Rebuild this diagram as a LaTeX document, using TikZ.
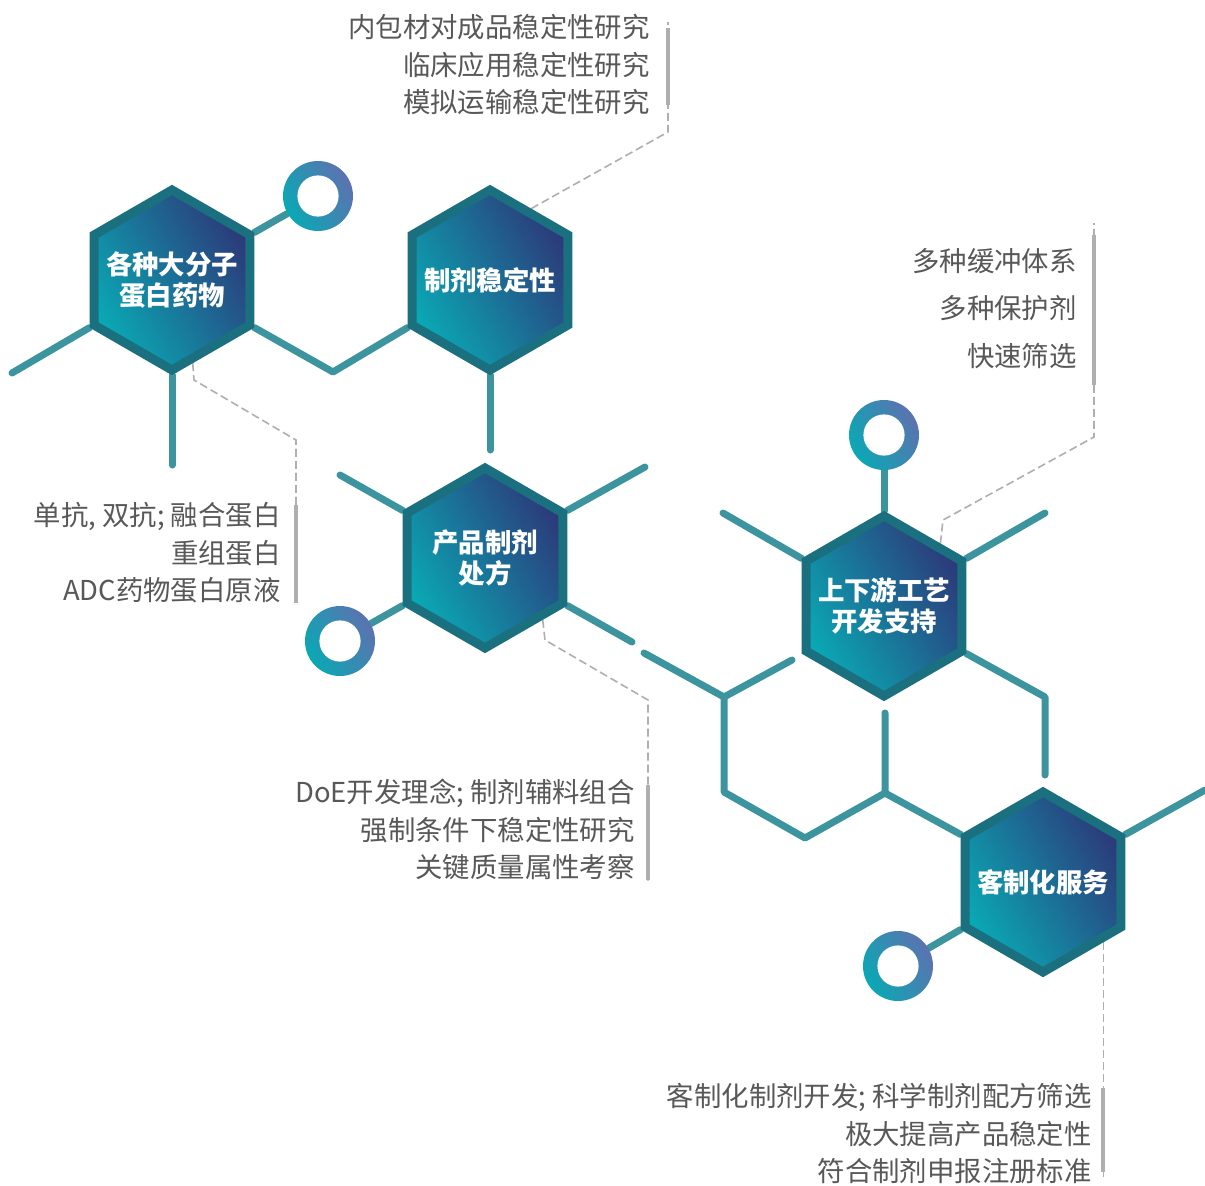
\documentclass[tikz,border=0pt]{standalone}
\usepackage{fontspec}
\setmainfont{Noto Sans CJK SC}
\usetikzlibrary{shapes.geometric,backgrounds}
\definecolor{hexteal}{RGB}{10,168,180}
\definecolor{hexnavy}{RGB}{44,58,122}
\definecolor{hexrim}{RGB}{26,112,126}
\definecolor{bondteal}{RGB}{60,148,158}
\definecolor{ringblue}{RGB}{92,114,176}
\definecolor{notegray}{RGB}{88,88,88}
\definecolor{leadgray}{RGB}{175,175,175}
\begin{document}
\begin{tikzpicture}
   [
     x                  = 0.5pt,
     y                  = -0.5pt,
     hexnode/.style     = {regular polygon, regular polygon sides=6,
     shape border rotate=30, minimum size=90pt, inner sep=0pt,
     draw=hexrim, line width=4.5pt,
     bottom color=hexteal, top color=hexnavy, shading angle=-60},
     hexlabel/.style    = {text=white, align=center, inner sep=0pt,
     font=\bfseries\fontsize{13.2}{15.5}\selectfont},
     ring/.style        = {circle, minimum size=35pt, inner sep=0pt,
     bottom color=hexteal, top color=ringblue, shading angle=-60,
     path picture={\fill[white] (path picture bounding box.center) circle (10.3pt);}},
     bond/.style        = {draw=bondteal, line width=3.5pt, line cap=round, line join=round},
     leader/.style      = {draw=leadgray, line width=0.8pt, dash pattern=on 4pt off 2pt},
     bar/.style         = {draw=leadgray, line width=2pt},
     note/.style        = {anchor=north east, align=right, inner sep=0pt,
     text=notegray, font=\fontsize{13.7}{18.75}\selectfont},
     widenote/.style    = {note, font=\fontsize{13.7}{23.75}\selectfont}
   ]
    \useasboundingbox (0,0) rectangle (1205,1185);

    \node [hexnode, label={[hexlabel]center:各种大分子\\蛋白药物}] (drug) at (172,280) {};
    \node [hexnode, label={[hexlabel]center:制剂稳定性}] (stab) at (490,280) {};
    \node [hexnode, label={[hexlabel]center:产品制剂\\处方}] (form) at (485,558) {};
    \node [hexnode, label={[hexlabel]center:上下游工艺\\开发支持}] (proc) at (884,606) {};
    \node [hexnode, label={[hexlabel]center:客制化服务}] (custom) at (1043,882) {};

    \node [ring] (ringa) at (318,196) {};
    \node [ring] (ringb) at (884,435) {};
    \node [ring] (ringc) at (340,641) {};
    \node [ring] (ringd) at (898,966) {};

    \node [note] (stabnote) at (650,14)
      {内包材对成品稳定性研究\\临床应用稳定性研究\\模拟运输稳定性研究};
    \node [note] (drugnote) at (281,502)
      {单抗, 双抗; 融合蛋白\\重组蛋白\\ADC药物蛋白原液};
    \node [widenote] (procnote) at (1077,248)
      {多种缓冲体系\\多种保护剂\\快速筛选};
    \node [note] (formnote) at (635,779)
      {DoE开发理念; 制剂辅料组合\\强制条件下稳定性研究\\关键质量属性考察};
    \node [note] (customnote) at (1092,1083)
      {客制化制剂开发; 科学制剂配方筛选\\极大提高产品稳定性\\符合制剂申报注册标准};

    \coordinate (dl) at (12,373);
    \coordinate (db) at (172,465);
    \coordinate (dj) at (333,372);
    \coordinate (sb) at (490,450);
    \coordinate (fl) at (340,475);
    \coordinate (fr) at (645,467);
    \coordinate (fg) at (632,642);
    \coordinate (ja) at (644,653);
    \coordinate (jb) at (724,697);
    \coordinate (jc) at (792,660);
    \coordinate (jd) at (724,792);
    \coordinate (je) at (805,838);
    \coordinate (jf) at (885,793);
    \coordinate (jg) at (885,713);
    \coordinate (pl) at (723,513);
    \coordinate (pr) at (1045,513);
    \coordinate (pj) at (1045,697);
    \coordinate (pd) at (1045,775);
    \coordinate (cr) at (1205,790);

    \begin{scope}[on background layer]
      \fill [white] (0,0) rectangle (1205,1185);
      \draw [bond] (drug.210) -- (dl);
      \draw [bond] (drug.270) -- (db);
      \draw [bond] (drug.30) -- (ringa);
      \draw [bond] (drug.330) -- (dj) -- (stab.210);
      \draw [bond] (stab.270) -- (sb);
      \draw [bond] (form.150) -- (fl);
      \draw [bond] (form.30) -- (fr);
      \draw [bond] (form.210) -- (ringc);
      \draw [bond] (form.330) -- (fg);
      \draw [bond] (ja) -- (jb) -- (jc);
      \draw [bond] (jb) -- (jd) -- (je) -- (jf) -- (jg);
      \draw [bond] (jf) -- (custom.150);
      \draw [bond] (proc.150) -- (pl);
      \draw [bond] (proc.30) -- (pr);
      \draw [bond] (proc.90) -- (ringb);
      \draw [bond] (proc.330) -- (pj) -- (pd);
      \draw [bond] (custom.30) -- (cr);
      \draw [bond] (custom.210) -- (ringd);

      \draw [leader] (stab.60) -- (668,132) -- (668,22);
      \draw [leader] (drug.284) -- (194,380) -- (296,440) -- (296,605);
      \draw [leader] (proc.48) -- (943,520) -- (1094,437) -- (1094,223);
      \draw [leader] (form.313) -- (545,640) -- (648,700) -- (648,882);
      \draw [leader] (custom.315) -- ++(0,235);
    \end{scope}

    \draw [bar] (668,28) -- (668,105);
    \draw [bar] (296,505) -- (296,603);
    \draw [bar] (1094,235) -- (1094,385);
    \draw [bar] (648,785) -- (648,880);
    \draw [bar] (1103,1088) -- (1103,1172);
\end{tikzpicture}
\end{document}
